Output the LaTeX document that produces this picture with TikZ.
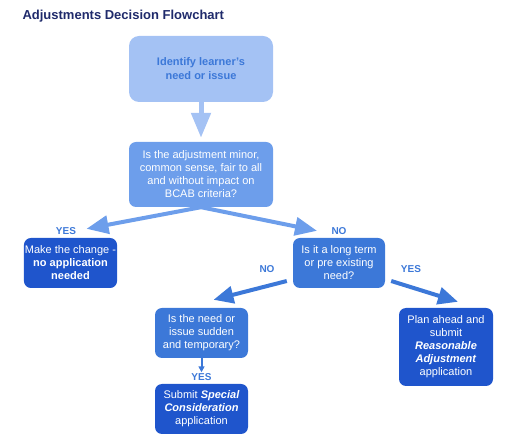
\documentclass[tikz,border=0pt]{standalone}
\usepackage{fontspec}
\setmainfont{Liberation Sans}
\usetikzlibrary{arrows.meta}

\definecolor{paleblue}{HTML}{A4C2F4}
\definecolor{midblue}{HTML}{6D9EEB}
\definecolor{deepblue}{HTML}{3C78D8}
\definecolor{darkblue}{HTML}{1F55CC}
\definecolor{titlenavy}{HTML}{1F2A6B}

\begin{document}
\begin{tikzpicture}[
   x=1pt, y=-1pt,
   every node/.append style={align=center, font=\fontsize{11}{13}\selectfont},  % <-- support line break
   box/.style={rounded corners=7pt, inner sep=1pt, text=white},
   fat/.style={line width=#1, line cap=butt}
]
\tikzset{answer/.style={font=\fontsize{10}{12}\selectfont\bfseries, text=deepblue}}
\useasboundingbox (0,0) rectangle (512,443);

\node[anchor=west, text=titlenavy, font=\fontsize{13}{15}\selectfont\bfseries] (title) at (19,16) {Adjustments Decision Flowchart};

\node[box, fill=paleblue, rounded corners=10pt, minimum width=144pt, minimum height=66pt,
      text=deepblue, font=\fontsize{11}{14}\selectfont\bfseries] (identify) at (201,69)
    {Identify learner’s\\need or issue};
\node[box, fill=midblue, minimum width=144pt, minimum height=65pt] (minor) at (201,174.5)
    {Is the adjustment minor,\\common sense, fair to all\\and without impact on\\BCAB criteria?};
\node[box, fill=darkblue, minimum width=93pt, minimum height=50pt] (change) at (70.5,263)
    {Make the change -\\\textbf{no application}\\\textbf{needed}};
\node[box, fill=deepblue, minimum width=92pt, minimum height=50pt] (longterm) at (339,263)
    {Is it a long term\\or pre existing\\need?};
\node[box, fill=deepblue, minimum width=93pt, minimum height=50pt] (sudden) at (201.5,333)
    {Is the need or\\issue sudden\\and temporary?};
\node[box, fill=darkblue, minimum width=93pt, minimum height=50pt] (special) at (201.5,409)
    {Submit \textbf{\textit{Special}}\\\textbf{\textit{Consideration}}\\application};
\node[box, fill=darkblue, minimum width=94pt, minimum height=78pt] (reasonable) at (446,347)
    {Plan ahead and\\submit\\\textbf{\textit{Reasonable}}\\\textbf{\textit{Adjustment}}\\application};

% answers
\node[answer] (yes1) at (66,231) {YES};
\node[answer] (no1) at (339,231) {NO};
\node[answer] (no2) at (267,269) {NO};
\node[answer] (yes2) at (411,269) {YES};
\node[answer, inner sep=1pt] (yes3) at (201.5,377) {YES};

% arrows
\draw[fat=5pt, draw=paleblue, -{Triangle[length=25pt,width=19pt]}, shorten >=4pt]
    (identify.south) -- (minor.north);
\draw[fat=4pt, draw=midblue, -{Triangle[length=22pt,width=18pt]}]
    (minor.south) -- ([xshift=16pt,yshift=9pt]change.north);
\draw[fat=4pt, draw=midblue, -{Triangle[length=22pt,width=18pt]}]
    (minor.south) -- ([xshift=-22pt,yshift=7pt]longterm.north);
\draw[fat=4pt, draw=deepblue, -{Triangle[length=20pt,width=17pt]}]
    ([xshift=-6pt,yshift=-18pt]longterm.west) -- ([xshift=12pt,yshift=8pt]sudden.north);
\draw[fat=4pt, draw=deepblue, -{Triangle[length=20pt,width=17pt]}]
    ([xshift=6pt,yshift=-18pt]longterm.east) -- ([xshift=12pt,yshift=6pt]reasonable.north);
\draw[fat=2pt, draw=deepblue, -{Triangle[length=6pt,width=6pt]}]
    (sudden.south) -- (yes3.north);
\end{tikzpicture}
\end{document}
